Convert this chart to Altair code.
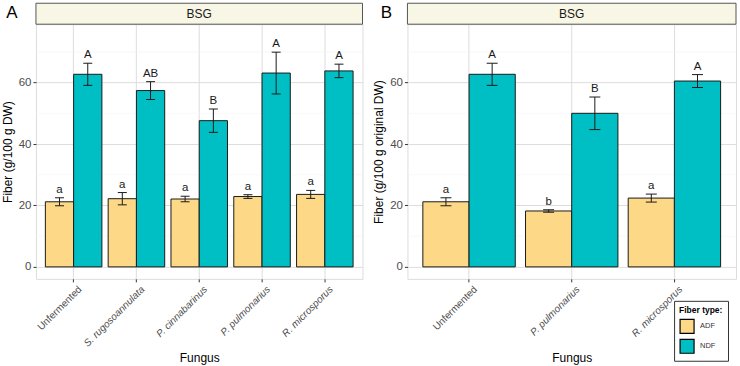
import altair as alt
import pandas as pd

# ---------------- data ----------------
fungi_a = ["Unfermented", "S. rugosoannulata", "P. cinnabarinus", "P. pulmonarius", "R. microsporus"]
adf_a = [21.2, 22.2, 22.1, 22.9, 23.6]
adf_a_err = [1.3, 2.0, 0.9, 0.6, 1.3]
ndf_a = [62.7, 57.4, 47.6, 63.1, 63.8]
ndf_a_err = [3.6, 2.9, 3.8, 6.8, 2.2]
lab_adf_a = ["a", "a", "a", "a", "a"]
lab_ndf_a = ["A", "AB", "B", "A", "A"]

fungi_b = ["Unfermented", "P. pulmonarius", "R. microsporus"]
adf_b = [21.2, 18.2, 22.4]
adf_b_err = [1.3, 0.4, 1.3]
ndf_b = [62.7, 50.0, 60.5]
ndf_b_err = [3.6, 5.3, 2.1]
lab_adf_b = ["a", "b", "a"]
lab_ndf_b = ["A", "B", "A"]

fiber_types = ["ADF", "NDF"]
fiber_colors = ["#FDD886", "#00BFC4"]
y_ticks = [0, 20, 40, 60]
y_minor = [10, 30, 50, 70]
y_domain = [-3.9, 79]

FONT = "Liberation Sans"
H = 255


def make_df(fungi, adf, adf_err, ndf, ndf_err, la, ln):
    rows = []
    for i, f in enumerate(fungi):
        rows.append(dict(Fungus=f, Type="ADF", Value=adf[i], lo=adf[i] - adf_err[i],
                         hi=adf[i] + adf_err[i], Label=la[i]))
        rows.append(dict(Fungus=f, Type="NDF", Value=ndf[i], lo=ndf[i] - ndf_err[i],
                         hi=ndf[i] + ndf_err[i], Label=ln[i]))
    return pd.DataFrame(rows)


def panel(df, fungi, width, ytitle, letter, letter_x, cap, legend):
    yscale = alt.Scale(domain=y_domain, nice=False, zero=False)
    xenc = alt.X("Fungus:N", sort=fungi,
                 scale=alt.Scale(paddingInner=0.1, paddingOuter=0.15),
                 axis=alt.Axis(title="Fungus", labelAngle=-45, labelAlign="right",
                               labelBaseline="top", labelFontSize=10, labelColor="#4D4D4D",
                               labelFontStyle={"expr": "datum.value == 'Unfermented' ? 'normal' : 'italic'"},
                               labelPadding=2, labelOffset=3, tickSize=3, tickColor="#333333",
                               grid=True, bandPosition=0.5, domain=False,
                               titleFontSize=12, titleFontWeight="normal", titleColor="#000000",
                               titleY=79, titleBaseline="middle"))
    xoff = alt.XOffset("Type:N", sort=fiber_types, scale=alt.Scale(paddingInner=0, paddingOuter=0))
    base = alt.Chart(df).encode(x=xenc, xOffset=xoff)

    minor = alt.Chart(pd.DataFrame({"v": y_minor})).mark_rule(color="#F4F4F4", strokeWidth=0.6).encode(
        y=alt.Y("v:Q", scale=yscale))

    bars = base.mark_bar(stroke="#1A1A1A", strokeWidth=1, opacity=1).encode(
        y=alt.Y("Value:Q", scale=yscale,
                axis=alt.Axis(title=ytitle, values=y_ticks, labelFontSize=11.5, labelColor="#4D4D4D",
                              labelPadding=2, tickSize=3, tickColor="#333333", domain=False,
                              grid=True, titleFontSize=12, titleFontWeight="normal",
                              titleColor="#000000", titlePadding=4)),
        color=alt.Color("Type:N", sort=fiber_types,
                        scale=alt.Scale(domain=fiber_types, range=fiber_colors),
                        legend=legend),
    )
    err = base.mark_rule(color="#1A1A1A", strokeWidth=1).encode(y="lo:Q", y2="hi:Q")
    cap_hi = base.mark_tick(color="#1A1A1A", size=cap, thickness=1, opacity=1).encode(y="hi:Q")
    cap_lo = base.mark_tick(color="#1A1A1A", size=cap, thickness=1, opacity=1).encode(y="lo:Q")
    txt = base.mark_text(baseline="alphabetic", dy=-5, fontSize=11.5, font=FONT, color="#1A1A1A").encode(
        y="hi:Q", text="Label:N")

    strip_df = pd.DataFrame({"t": ["BSG"], "l": [letter]})
    strip = alt.Chart(strip_df).mark_rect(fill="#F8F6E5", stroke="#555555", strokeWidth=1).encode(
        x=alt.value(0), x2=alt.value(width), y=alt.value(-21), y2=alt.value(0))
    strip_txt = alt.Chart(strip_df).mark_text(fontSize=12, font=FONT, color="#1A1A1A").encode(
        x=alt.value(width / 2), y=alt.value(-10.5), text="t:N")
    letter_txt = alt.Chart(strip_df).mark_text(fontSize=17, font=FONT, color="#000000").encode(
        x=alt.value(letter_x), y=alt.value(-11), text="l:N")

    return alt.layer(minor, bars, err, cap_hi, cap_lo, txt, strip, strip_txt, letter_txt).properties(
        width=width, height=H)


df_a = make_df(fungi_a, adf_a, adf_a_err, ndf_a, ndf_a_err, lab_adf_a, lab_ndf_a)
df_b = make_df(fungi_b, adf_b, adf_b_err, ndf_b, ndf_b_err, lab_adf_b, lab_ndf_b)

leg = alt.Legend(title="Fiber type:", orient="none", legendX=267, legendY=277,
                 titleFontSize=8.5, titleFontWeight="bold", titleColor="#000000", titleFont=FONT,
                 labelFontSize=7.5, labelColor="#333333", labelFont=FONT,
                 symbolType="square", symbolSize=196, symbolStrokeColor="#000000",
                 symbolStrokeWidth=1.2, symbolOpacity=1, rowPadding=0, padding=5,
                 strokeColor="#333333", fillColor="#FFFFFF", titlePadding=4, labelOffset=5)

pa = panel(df_a, fungi_a, 327, "Fiber (g/100 g DW)", "A", -24, 9, None)
pb = panel(df_b, fungi_b, 329, "Fiber (g/100 g original DW)", "B", -21, 11, leg)

chart = alt.hconcat(pa, pb, spacing=45, bounds="flush").resolve_scale(
    color="independent", x="independent", xOffset="independent").resolve_legend(
    color="independent").properties(
    padding={"left": 0, "top": 2, "right": 3, "bottom": 2}
).configure_view(stroke="#555555", strokeWidth=1).configure_axis(
    gridColor="#EBEBEB", gridWidth=1, labelFont=FONT, titleFont=FONT
).configure(font=FONT, background="#FFFFFF")

chart.save("out.html", embed_options={"renderer": "svg", "actions": False})
